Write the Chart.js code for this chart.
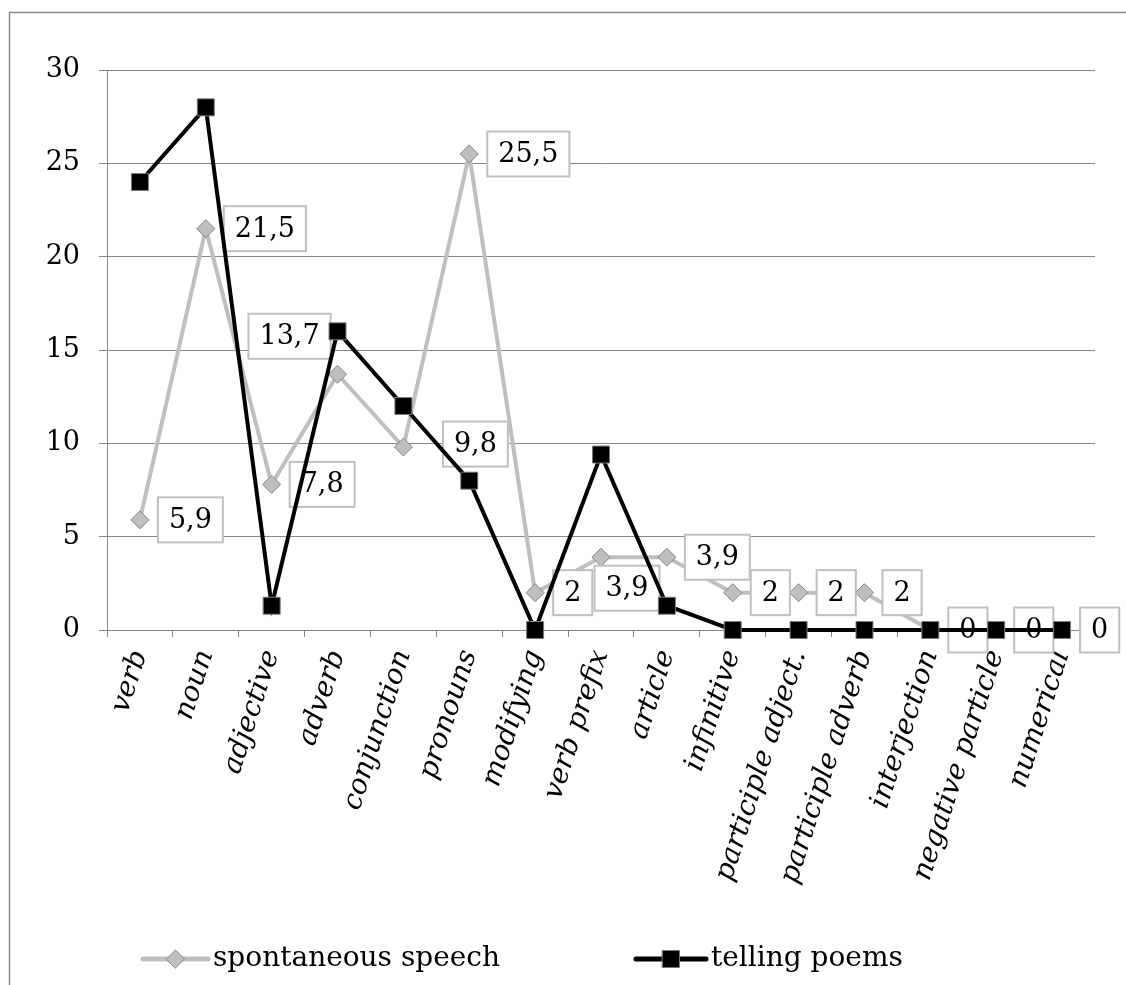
<!DOCTYPE html>
<html>
<head>
<meta charset="utf-8">
<title>Parts of speech</title>
<script src="https://cdn.jsdelivr.net/npm/chart.js@4.4.1/dist/chart.umd.min.js"></script>
<style>
  html, body { margin: 0; padding: 0; background: #fff; }
  #wrap { width: 1126px; height: 985px; position: relative; }
</style>
</head>
<body>
<div id="wrap"><canvas id="chart" width="1126" height="985"></canvas></div>
<script>
// Parts of speech and the share (%) of each in the two kinds of speech
const categories = ['verb', 'noun', 'adjective', 'adverb', 'conjunction', 'pronouns', 'modifying',
  'verb prefix', 'article', 'infinitive', 'participle adject.', 'participle adverb',
  'interjection', 'negative particle', 'numerical'];
const spontaneousSpeech = [5.9, 21.5, 7.8, 13.7, 9.8, 25.5, 2, 3.9, 3.9, 2, 2, 2, 0, 0, 0];
const tellingPoems = [24, 28, 1.3, 16, 12, 8, 0, 9.4, 1.3, 0, 0, 0, 0, 0, 0];
const yTickValues = [0, 5, 10, 15, 20, 25, 30];

// Where each value box sits relative to its point: null = just to the right,
// otherwise [dx, dy] of the box centre from the point.
const labelNudge = [null, null, null, [-48, -38], [72, -3], null, null, [26, 31],
  null, null, null, null, null, null, null];

const SERIF = '"DejaVu Serif", "Liberation Serif", serif';
const GRID = '#878787';
const LIGHT = '#BFBFBF';
const FONT_SIZE = 27;

const fmt = v => String(v).replace('.', ',');

// Value boxes for the spontaneous-speech series, drawn right after that line
const valueBoxes = {
  id: 'valueBoxes',
  afterDatasetDraw(chart, args) {
    if (args.index !== 0) return;
    const ctx = chart.ctx;
    const meta = args.meta;
    ctx.save();
    ctx.font = FONT_SIZE + 'px ' + SERIF;
    ctx.textAlign = 'center';
    ctx.textBaseline = 'middle';
    meta.data.forEach((pt, i) => {
      const text = fmt(spontaneousSpeech[i]);
      const w = ctx.measureText(text).width + 22;
      const h = 45;
      let cx, cy;
      if (labelNudge[i]) {
        cx = pt.x + labelNudge[i][0];
        cy = pt.y + labelNudge[i][1];
      } else {
        cx = pt.x + 18 + w / 2;
        cy = pt.y;
      }
      ctx.fillStyle = '#fff';
      ctx.fillRect(cx - w / 2, cy - h / 2, w, h);
      ctx.strokeStyle = LIGHT;
      ctx.lineWidth = 2;
      ctx.strokeRect(cx - w / 2, cy - h / 2, w, h);
      ctx.fillStyle = '#000';
      ctx.fillText(text, cx, cy + 1);
    });
    ctx.restore();
  }
};

// Outer frame and the legend (line + marker samples) under the axis labels
const frameAndLegend = {
  id: 'frameAndLegend',
  beforeDraw(chart) {
    const ctx = chart.ctx;
    ctx.save();
    ctx.strokeStyle = '#8a8a8a';
    ctx.lineWidth = 1.5;
    ctx.beginPath();
    ctx.moveTo(9.5, chart.height);
    ctx.lineTo(9.5, 12.5);
    ctx.lineTo(chart.width, 12.5);
    ctx.stroke();
    ctx.restore();
  },
  afterDraw(chart) {
    const ctx = chart.ctx;
    const y = 959;
    const items = [
      { ds: chart.data.datasets[0], x0: 143, x1: 208 },
      { ds: chart.data.datasets[1], x0: 636, x1: 706 }
    ];
    ctx.save();
    items.forEach(it => {
      const ds = it.ds;
      ctx.strokeStyle = ds.borderColor;
      ctx.lineWidth = ds.borderWidth + 1;
      ctx.lineCap = 'round';
      ctx.beginPath();
      ctx.moveTo(it.x0, y);
      ctx.lineTo(it.x1, y);
      ctx.stroke();
      ctx.fillStyle = ds.pointBackgroundColor;
      ctx.strokeStyle = ds.pointBorderColor;
      ctx.lineWidth = ds.pointBorderWidth;
      Chart.helpers.drawPoint(ctx, {
        pointStyle: ds.pointStyle,
        rotation: 0,
        radius: ds.pointRadius,
        borderWidth: ds.pointBorderWidth
      }, (it.x0 + it.x1) / 2, y);
      ctx.fillStyle = '#000';
      ctx.font = FONT_SIZE + 1 + 'px ' + SERIF;
      ctx.textAlign = 'left';
      ctx.textBaseline = 'middle';
      ctx.fillText(ds.label, it.x1 + 5, y);
    });
    ctx.restore();
  }
};

new Chart(document.getElementById('chart'), {
  type: 'line',
  data: {
    labels: categories,
    datasets: [
      {
        label: 'spontaneous speech',
        data: spontaneousSpeech,
        order: 2,
        borderColor: LIGHT,
        borderWidth: 4,
        pointStyle: 'rectRot',
        pointRadius: 9,
        pointHoverRadius: 9,
        pointBackgroundColor: LIGHT,
        pointBorderColor: '#838383',
        pointBorderWidth: 1,
        tension: 0,
        clip: false
      },
      {
        label: 'telling poems',
        data: tellingPoems,
        order: 1,
        borderColor: '#000',
        borderWidth: 4,
        pointStyle: 'rect',
        pointRadius: 12,
        pointHoverRadius: 12,
        pointBackgroundColor: '#000',
        pointBorderColor: '#7a7a7a',
        pointBorderWidth: 1,
        tension: 0,
        clip: false
      }
    ]
  },
  options: {
    responsive: false,
    animation: false,
    events: [],
    layout: { padding: { left: 0, right: 31, top: 70, bottom: 75 } },
    plugins: {
      legend: { display: false },
      tooltip: { enabled: false },
      title: { display: false }
    },
    scales: {
      x: {
        type: 'category',
        offset: true,
        grid: {
          display: true,
          offset: true,
          drawOnChartArea: false,
          drawTicks: true,
          tickLength: 7,
          color: GRID,
          lineWidth: 1
        },
        border: { display: true, color: GRID, width: 1 },
        ticks: {
          autoSkip: false,
          minRotation: 72,
          maxRotation: 72,
          padding: 9,
          color: '#000',
          font: { family: SERIF, size: 28, style: 'italic' }
        },
        afterFit(scale) { scale.height = 280; }
      },
      y: {
        min: 0,
        max: 30,
        afterBuildTicks(scale) { scale.ticks = yTickValues.map(v => ({ value: v })); },
        grid: {
          color: GRID,
          lineWidth: 1,
          drawTicks: true,
          tickLength: 8
        },
        border: { display: true, color: GRID, width: 1 },
        ticks: {
          padding: 19,
          color: '#000',
          font: { family: SERIF, size: FONT_SIZE }
        },
        afterFit(scale) { scale.width = 107; }
      }
    }
  },
  plugins: [frameAndLegend, valueBoxes]
});
</script>
</body>
</html>
